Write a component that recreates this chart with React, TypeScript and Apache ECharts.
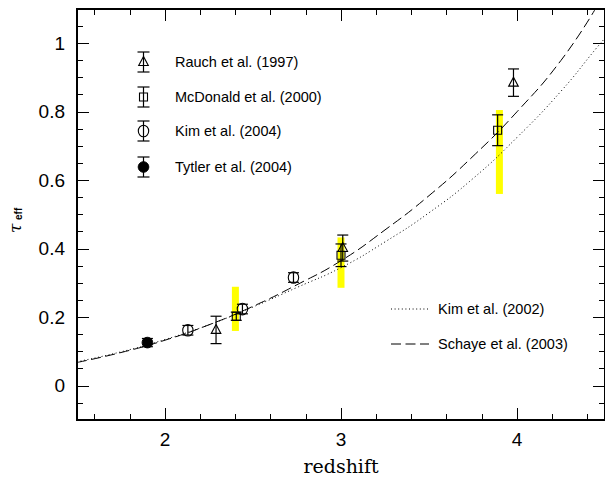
import React, { useEffect, useRef } from "react";
import * as echarts from "echarts";

// ---- data ----
const curveZ = [1.5, 1.75, 2.0, 2.25, 2.5, 2.75, 3.0, 3.25, 3.5, 3.75, 4.0, 4.25, 4.45, 4.5];
const kim2002 = [0.070, 0.099, 0.135, 0.178, 0.230, 0.287, 0.345, 0.420, 0.505, 0.605, 0.725, 0.860, 0.985, 1.015];
const schayeZ = [1.5, 1.75, 2.0, 2.25, 2.5, 2.75, 3.0, 3.25, 3.5, 3.75, 4.0, 4.25, 4.445];
const schaye2003 = [0.068, 0.097, 0.133, 0.178, 0.232, 0.295, 0.365, 0.455, 0.555, 0.670, 0.800, 0.950, 1.1];

const rauchZ = [2.29, 3.01, 3.98];
const rauchTau = [0.163, 0.402, 0.885];
const rauchErr = [0.04, 0.038, 0.04];

const mcdZ = [2.405, 3.0, 3.89];
const mcdTau = [0.203, 0.381, 0.746];
const mcdErr = [0.012, 0.033, 0.045];

const kim2004Z = [2.13, 2.44, 2.73];
const kim2004Tau = [0.162, 0.224, 0.316];
const kim2004Err = [0.014, 0.014, 0.014];

const tytlerZ = [1.9];
const tytlerTau = [0.126];
const tytlerErr = [0.012];

const bandZ = [2.4, 3.0, 3.9];
const bandLow = [0.16, 0.286, 0.56];
const bandHigh = [0.289, 0.433, 0.805];

const xMajor = [2, 3, 4];
const xMinor = [1.6, 1.8, 2.2, 2.4, 2.6, 2.8, 3.2, 3.4, 3.6, 3.8, 4.2, 4.4];
const yMajor = [0, 0.2, 0.4, 0.6, 0.8, 1.0];
const yMinor = [-0.05, 0.05, 0.1, 0.15, 0.25, 0.3, 0.35, 0.45, 0.5, 0.55, 0.65, 0.7, 0.75, 0.85, 0.9, 0.95, 1.05];

const legendTop = ["Rauch et al. (1997)", "McDonald et al. (2000)", "Kim et al. (2004)", "Tytler et al. (2004)"];
const legendBottom = ["Kim et al. (2002)", "Schaye et al. (2003)"];

const SANS = "'Liberation Sans', Arial, Helvetica, sans-serif";
const SERIF = "'DejaVu Serif', 'Liberation Serif', serif";

function symbolShape(kind: string, cx: number, cy: number) {
  const st = { stroke: "#000", lineWidth: 1.1, fill: "none" };
  if (kind === "tri") {
    return { type: "polygon", shape: { points: [[cx, cy - 5.5], [cx - 4.8, cy + 3.5], [cx + 4.8, cy + 3.5]] }, style: st };
  }
  if (kind === "sq") {
    return { type: "rect", shape: { x: cx - 4, y: cy - 4, width: 8, height: 8 }, style: st };
  }
  if (kind === "circ") {
    return { type: "ellipse", shape: { cx, cy, rx: 5.2, ry: 5.8 }, style: st };
  }
  return { type: "circle", shape: { cx, cy, r: 5.3 }, style: { fill: "#000", stroke: "#000", lineWidth: 1 } };
}

function errChildren(kind: string, cx: number, cy: number, yt: number, yb: number, cap: number) {
  const ls = { stroke: "#000", lineWidth: 1.2 };
  return [
    { type: "line", shape: { x1: cx, y1: yt, x2: cx, y2: yb }, style: ls },
    { type: "line", shape: { x1: cx - cap, y1: yt, x2: cx + cap, y2: yt }, style: ls },
    { type: "line", shape: { x1: cx - cap, y1: yb, x2: cx + cap, y2: yb }, style: ls },
    symbolShape(kind, cx, cy),
  ];
}

function errSeries(name: string, kind: string, zs: number[], taus: number[], errs: number[]) {
  return {
    name,
    type: "custom",
    z: 5,
    data: zs.map((z, i) => [z, taus[i], errs[i]]),
    renderItem: (_p: any, api: any) => {
      const x = api.value(0), y = api.value(1), e = api.value(2);
      const c = api.coord([x, y]);
      const t = api.coord([x, y + e]);
      const b = api.coord([x, y - e]);
      return { type: "group", children: errChildren(kind, c[0], c[1], t[1], b[1], 5.5) };
    },
  };
}

export default function App() {
  const ref = useRef<HTMLDivElement>(null);
  useEffect(() => {
    if (!ref.current) return;
    const chart = echarts.init(ref.current, undefined, { renderer: "svg" });
    const axisLine = { show: true, onZero: false, lineStyle: { color: "#000", width: 2 } };
    const noLabel = { show: false };
    const xBase = { type: "value", min: 1.5, max: 4.5, splitLine: { show: false }, axisLine };
    const yBase = { type: "value", min: -0.1, max: 1.1, splitLine: { show: false }, axisLine };
    const tickStyle = { color: "#000", width: 1 };
    const nameAxis = {
      type: "value",
      min: -0.1,
      max: 1.1,
      position: "left",
      offset: 54,
      splitLine: { show: false },
      axisLine: { show: false, onZero: false },
      axisTick: { show: false },
      axisLabel: { show: false },
      nameLocation: "end",
      nameRotate: 90,
    };

    const legendEls: any[] = [];
    const rowsY = [62, 97, 131, 167];
    const kinds = ["tri", "sq", "circ", "fill"];
    rowsY.forEach((ry, i) => {
      legendEls.push(...errChildren(kinds[i], 143.5, ry, ry - 10, ry + 10, 6));
      legendEls.push({
        type: "text",
        x: 175,
        y: ry,
        style: { text: legendTop[i], fill: "#000", font: `14.5px ${SANS}`, verticalAlign: "middle", align: "left" },
      });
    });
    const lrows = [309, 344];
    lrows.forEach((ry, i) => {
      legendEls.push({
        type: "line",
        shape: { x1: 391, y1: ry, x2: 429, y2: ry },
        style: { stroke: "#000", lineWidth: 1, lineDash: i === 0 ? [1, 2.6] : [10, 4.5] },
      });
      legendEls.push({
        type: "text",
        x: 438,
        y: ry,
        style: { text: legendBottom[i], fill: "#000", font: `14.5px ${SANS}`, verticalAlign: "middle", align: "left" },
      });
    });

    chart.setOption({
      animation: false,
      backgroundColor: "#fff",
      grid: { left: 77, right: -1, top: 9, bottom: 50, containLabel: false },
      xAxis: [
        {
          ...xBase,
          position: "bottom",
          axisTick: { show: true, inside: true, length: 12, lineStyle: tickStyle, customValues: xMajor },
          axisLabel: { show: true, customValues: xMajor, color: "#000", fontFamily: SANS, fontSize: 19, margin: 10 },
          name: "redshift",
          nameLocation: "middle",
          nameGap: 36,
          nameTextStyle: { color: "#000", fontFamily: SERIF, fontSize: 19 },
        },
        { ...xBase, position: "bottom", axisTick: { show: true, inside: true, length: 6, lineStyle: tickStyle, customValues: xMinor }, axisLabel: noLabel },
        { ...xBase, position: "top", axisTick: { show: true, inside: true, length: 12, lineStyle: tickStyle, customValues: xMajor }, axisLabel: noLabel },
        { ...xBase, position: "top", axisTick: { show: true, inside: true, length: 6, lineStyle: tickStyle, customValues: xMinor }, axisLabel: noLabel },
      ],
      yAxis: [
        {
          ...yBase,
          position: "left",
          axisTick: { show: true, inside: true, length: 12, lineStyle: tickStyle, customValues: yMajor },
          axisLabel: { show: true, customValues: yMajor, color: "#000", fontFamily: SANS, fontSize: 19, margin: 12, formatter: (v: number) => String(Math.round(v * 10) / 10) },
        },
        { ...yBase, position: "left", axisTick: { show: true, inside: true, length: 6, lineStyle: tickStyle, customValues: yMinor }, axisLabel: noLabel },
        { ...yBase, position: "right", axisTick: { show: true, inside: true, length: 12, lineStyle: tickStyle, customValues: yMajor }, axisLabel: noLabel },
        { ...yBase, position: "right", axisTick: { show: true, inside: true, length: 6, lineStyle: tickStyle, customValues: yMinor }, axisLabel: noLabel },
        {
          ...nameAxis,
          name: "τ",
          nameGap: -224,
          nameTextStyle: { color: "#000", fontFamily: SERIF, fontStyle: "italic", fontSize: 17, align: "left", verticalAlign: "bottom" },
        },
        {
          ...nameAxis,
          name: "eff",
          nameGap: -211,
          nameTextStyle: { color: "#000", fontFamily: SANS, fontWeight: "bold", fontSize: 10, align: "left", verticalAlign: "bottom" },
        },
      ],
      graphic: legendEls,
      series: [
        {
          name: "bands",
          type: "custom",
          z: 1,
          data: bandZ.map((z, i) => [z, bandLow[i], bandHigh[i]]),
          renderItem: (_p: any, api: any) => {
            const lo = api.coord([api.value(0), api.value(1)]);
            const hi = api.coord([api.value(0), api.value(2)]);
            return { type: "rect", shape: { x: lo[0] - 3.5, y: hi[1], width: 7, height: lo[1] - hi[1] }, style: { fill: "#ffff00" } };
          },
        },
        {
          name: "Kim et al. (2002)",
          type: "line",
          z: 3,
          smooth: true,
          symbol: "none",
          data: curveZ.map((z, i) => [z, kim2002[i]]),
          lineStyle: { color: "#000", width: 1, type: [1, 2.6] },
        },
        {
          name: "Schaye et al. (2003)",
          type: "line",
          z: 3,
          smooth: true,
          symbol: "none",
          data: schayeZ.map((z, i) => [z, schaye2003[i]]),
          lineStyle: { color: "#000", width: 1, type: [10, 4.5] },
        },
        errSeries(legendTop[0], "tri", rauchZ, rauchTau, rauchErr),
        errSeries(legendTop[1], "sq", mcdZ, mcdTau, mcdErr),
        errSeries(legendTop[2], "circ", kim2004Z, kim2004Tau, kim2004Err),
        errSeries(legendTop[3], "fill", tytlerZ, tytlerTau, tytlerErr),
      ],
    });
    return () => chart.dispose();
  }, []);
  return <div ref={ref} style={{ position: "absolute", left: 0, top: 0, width: 605, height: 480 }} />;
}
